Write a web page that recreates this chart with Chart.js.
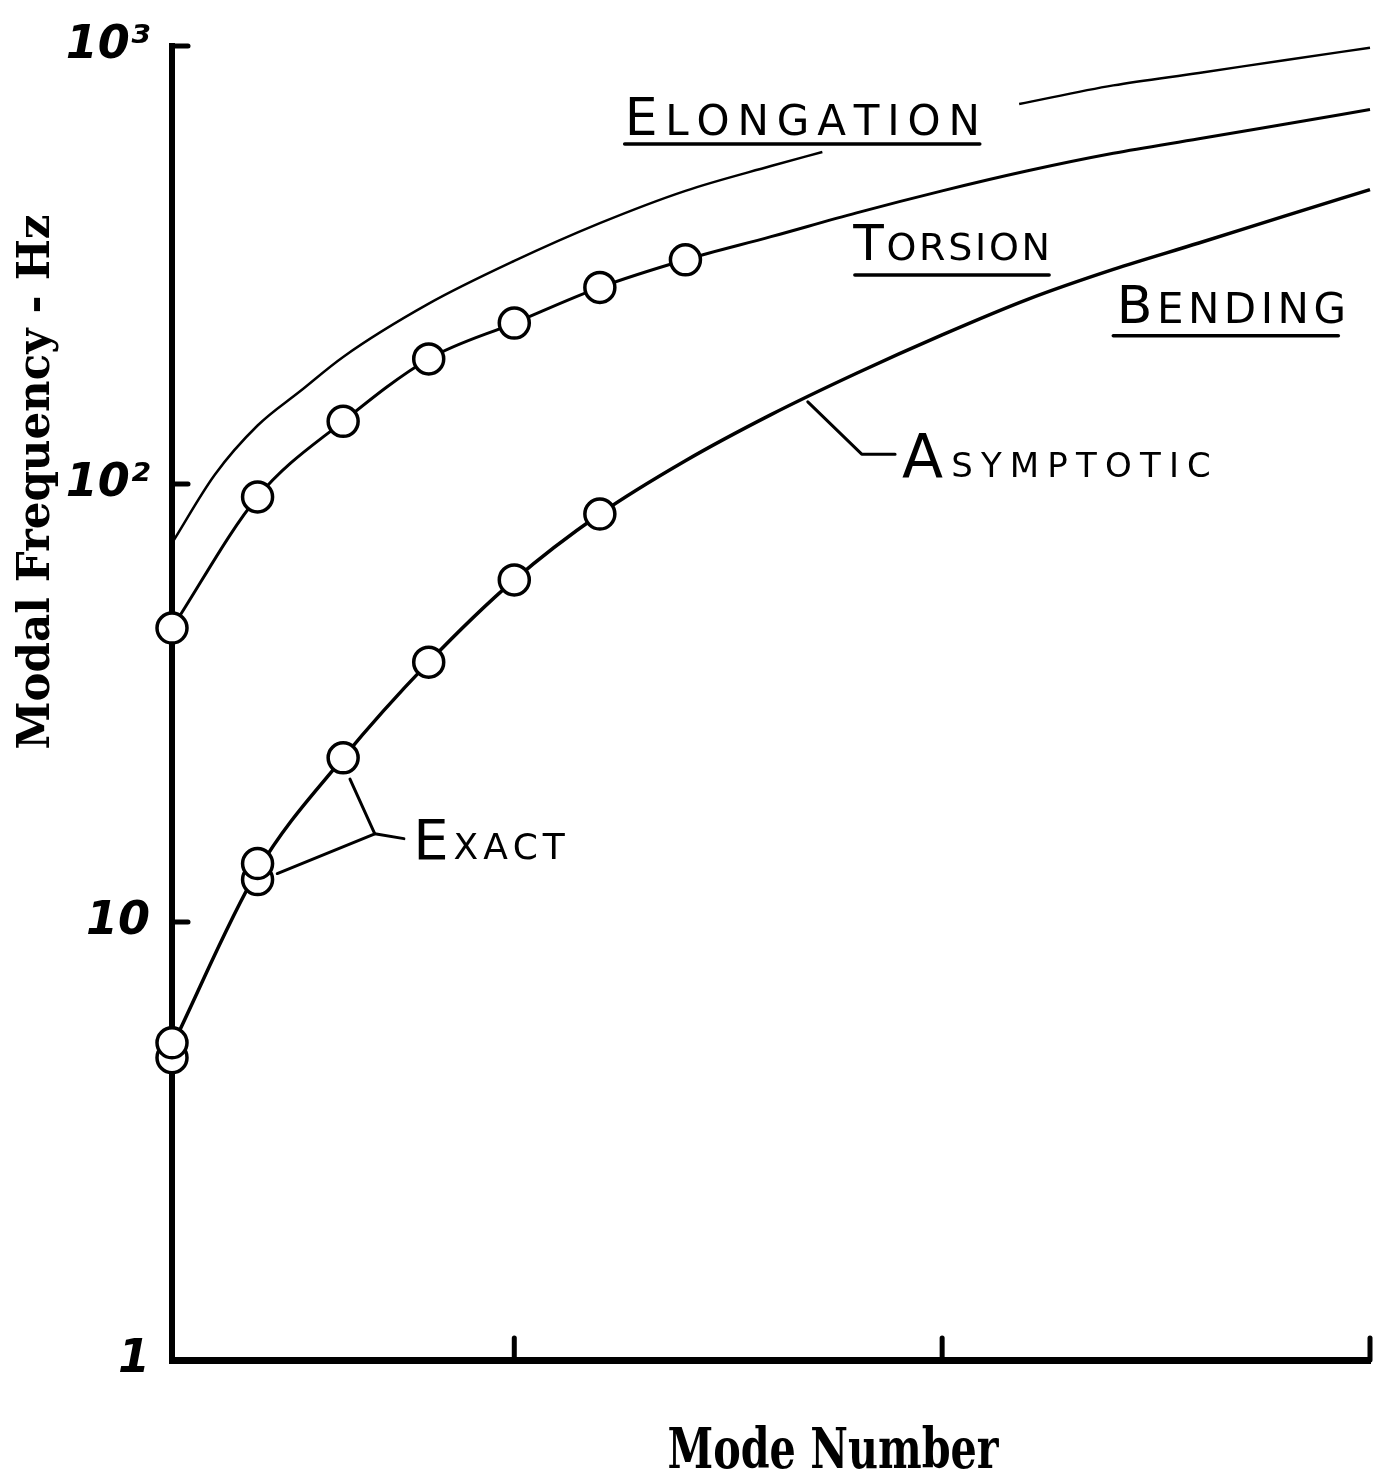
<!DOCTYPE html>
<html>
<head>
<meta charset="utf-8">
<script src="https://cdn.jsdelivr.net/npm/chart.js@4.4.1/dist/chart.umd.min.js"></script>
<style>
  html, body { margin: 0; padding: 0; background: #fff; }
  #wrap { width: 1383px; height: 1475px; }
</style>
</head>
<body>
<div id="wrap"><canvas id="myChart" width="1383" height="1475"></canvas></div>
<script>
// values (log y axis, Hz)
const modes = [1, 2, 3, 4, 5, 6, 7, 8, 9, 10, 11, 12, 13, 14, 15];
const xTicks = [5, 10, 15];
const yTicks = [1, 10, 100, 1000];
const yTickLabels = ['1', '10', '10²', '10³'];

// elongation curve is broken where its label sits
const elongationModes = [1, 1.5, 2, 2.5, 3, 4, 5, 6, 7, 8, 8.6, 9.8, 10.9, 12, 13, 14, 15];
const elongationHz = [73.3, 105, 136, 163, 195, 258, 323, 394, 467, 532, 573, null, 737, 813, 868, 928, 991];
const torsionHz = [46.9, 93.4, 139, 193, 233, 281, 325, 367, 416, 467, 519, 569, 614, 663, 716];
const bendingHz = [5.2, 13.1, 23.7, 39.2, 60.4, 85.4, 113, 144, 179, 219, 264, 309, 355, 409, 470];

// exact solutions (open circles)
const torsionExactModes = [1, 2, 3, 4, 5, 6, 7];
const torsionExactHz = [46.9, 93.4, 139, 193, 233, 281, 325];
const bendingExactModes = [1, 2, 3, 4, 5, 6];
const bendingExactHz = [5.3, 13.6, 23.7, 39.2, 60.4, 85.4];
const bendingSecondModes = [1, 2];
const bendingSecondHz = [4.9, 12.5];

const pts = (xs, ys) => xs.map((m, i) => ({ x: m, y: ys[i] }));

// hand lettered notes, placed in (mode, Hz)
const notes = [
  { text: 'Elongation', x0: 6.29, x1: 10.44, hz: 626, big: 52, small: 42, under: [6.29, 10.44, 597] },
  { text: 'Torsion', x0: 8.96, x1: 11.26, hz: 325, big: 50, small: 38, under: [8.98, 11.25, 300] },
  { text: 'Bending', x0: 12.04, x1: 14.72, hz: 233, big: 52, small: 42, under: [12.0, 14.63, 218] },
  { text: 'Asymptotic', x0: 9.53, x1: 13.14, hz: 104, big: 60, small: 34 },
  { text: 'Exact', x0: 3.82, x1: 5.59, hz: 13.9, big: 56, small: 36 }
];
const leaders = [
  [[8.43, 154], [9.06, 117], [9.45, 117]],
  [[3.08, 21.2], [3.37, 15.9], [3.71, 15.5]],
  [[2.23, 12.9], [3.37, 15.9]]
];

function capsText(ctx, text, x0, x1, base, big, small) {
  const chars = text.toUpperCase().split('');
  const fonts = chars.map((c, i) => (i === 0 ? big : small) + 'px "DejaVu Sans"');
  const widths = chars.map((c, i) => { ctx.font = fonts[i]; return ctx.measureText(c).width; });
  const total = widths.reduce((a, b) => a + b, 0);
  const gap = (x1 - x0 - total) / (chars.length - 1);
  let x = x0;
  chars.forEach((c, i) => {
    ctx.font = fonts[i];
    ctx.fillText(c, x, base);
    x += widths[i] + gap;
  });
}

function fitText(ctx, text, font, width) {
  ctx.font = font;
  const w = ctx.measureText(text).width;
  ctx.scale(width / w, 1);
  ctx.fillText(text, 0, 0);
}

const sketchNotes = {
  id: 'sketchNotes',
  afterDraw(chart) {
    const { ctx, chartArea, scales: { x, y } } = chart;
    const px = m => x.getPixelForValue(m);
    const py = v => y.getPixelForValue(v);
    ctx.save();
    ctx.fillStyle = '#000';
    ctx.strokeStyle = '#000';
    ctx.lineCap = 'round';
    ctx.lineJoin = 'round';

    // tick marks point into the plot
    ctx.lineWidth = 5;
    xTicks.forEach(t => {
      ctx.beginPath();
      ctx.moveTo(px(t), chartArea.bottom);
      ctx.lineTo(px(t), chartArea.bottom - 22);
      ctx.stroke();
    });
    yTicks.slice(1).forEach(t => {
      ctx.beginPath();
      ctx.moveTo(chartArea.left, py(t));
      ctx.lineTo(chartArea.left + 16, py(t));
      ctx.stroke();
    });

    // curve labels
    ctx.textAlign = 'left';
    ctx.textBaseline = 'alphabetic';
    ctx.lineWidth = 3.5;
    notes.forEach(n => {
      capsText(ctx, n.text, px(n.x0), px(n.x1), py(n.hz), n.big, n.small);
      if (n.under) {
        ctx.beginPath();
        ctx.moveTo(px(n.under[0]), py(n.under[2]));
        ctx.lineTo(px(n.under[1]), py(n.under[2]));
        ctx.stroke();
      }
    });
    ctx.lineWidth = 3;
    leaders.forEach(l => {
      ctx.beginPath();
      l.forEach((p, i) => i ? ctx.lineTo(px(p[0]), py(p[1])) : ctx.moveTo(px(p[0]), py(p[1])));
      ctx.stroke();
    });

    // axis titles
    ctx.textAlign = 'center';
    ctx.save();
    ctx.translate(833, 1468);
    fitText(ctx, 'Mode Number', 'bold 56px "DejaVu Serif"', 331);
    ctx.restore();
    ctx.save();
    ctx.translate(49, 482);
    ctx.rotate(-Math.PI / 2);
    fitText(ctx, 'Modal Frequency - Hz', 'bold 44px "DejaVu Serif"', 535);
    ctx.restore();

    ctx.restore();
  }
};

const circle = { showLine: false, pointRadius: 15, pointBorderWidth: 3.5, pointBorderColor: '#000',
  pointBackgroundColor: '#fff', clip: false, order: 0 };
const curve = { borderColor: '#000', pointRadius: 0, cubicInterpolationMode: 'monotone',
  spanGaps: false, clip: false, order: 1 };

const ctx = document.getElementById('myChart');

new Chart(ctx, {
  type: 'line',
  data: {
    datasets: [
      { ...circle, label: 'Torsion exact', data: pts(torsionExactModes, torsionExactHz) },
      { ...circle, label: 'Bending exact', data: pts(bendingExactModes, bendingExactHz) },
      { ...circle, label: 'Bending exact 2', data: pts(bendingSecondModes, bendingSecondHz) },
      { ...curve, label: 'Elongation', data: pts(elongationModes, elongationHz), borderWidth: 2.5 },
      { ...curve, label: 'Torsion', data: pts(modes, torsionHz), borderWidth: 3 },
      { ...curve, label: 'Bending', data: pts(modes, bendingHz), borderWidth: 3.5 }
    ]
  },
  options: {
    responsive: false,
    animation: false,
    events: [],
    layout: { autoPadding: false, padding: { left: 0, right: 13, top: 46, bottom: 0 } },
    plugins: { legend: { display: false }, tooltip: { enabled: false } },
    scales: {
      x: {
        type: 'linear',
        min: 1,
        max: 15,
        z: 1,
        grid: { display: false, drawTicks: false },
        border: { display: true, color: '#000', width: 7 },
        ticks: { display: false },
        afterFit: s => { s.height = 115; s.paddingLeft = 0; s.paddingRight = 0; }
      },
      y: {
        type: 'logarithmic',
        min: 1,
        max: 1000,
        z: 1,
        grid: { display: false, drawTicks: false },
        border: { display: true, color: '#000', width: 6 },
        afterBuildTicks: s => { s.ticks = yTicks.map(v => ({ value: v })); },
        afterFit: s => { s.width = 172; s.paddingTop = 0; s.paddingBottom = 0; },
        ticks: {
          autoSkip: false,
          padding: 22,
          color: '#000',
          font: { family: 'DejaVu Sans', size: 46, weight: 'bold', style: 'italic' },
          callback: (v, i) => yTickLabels[i]
        }
      }
    }
  },
  plugins: [sketchNotes]
});
</script>
</body>
</html>
